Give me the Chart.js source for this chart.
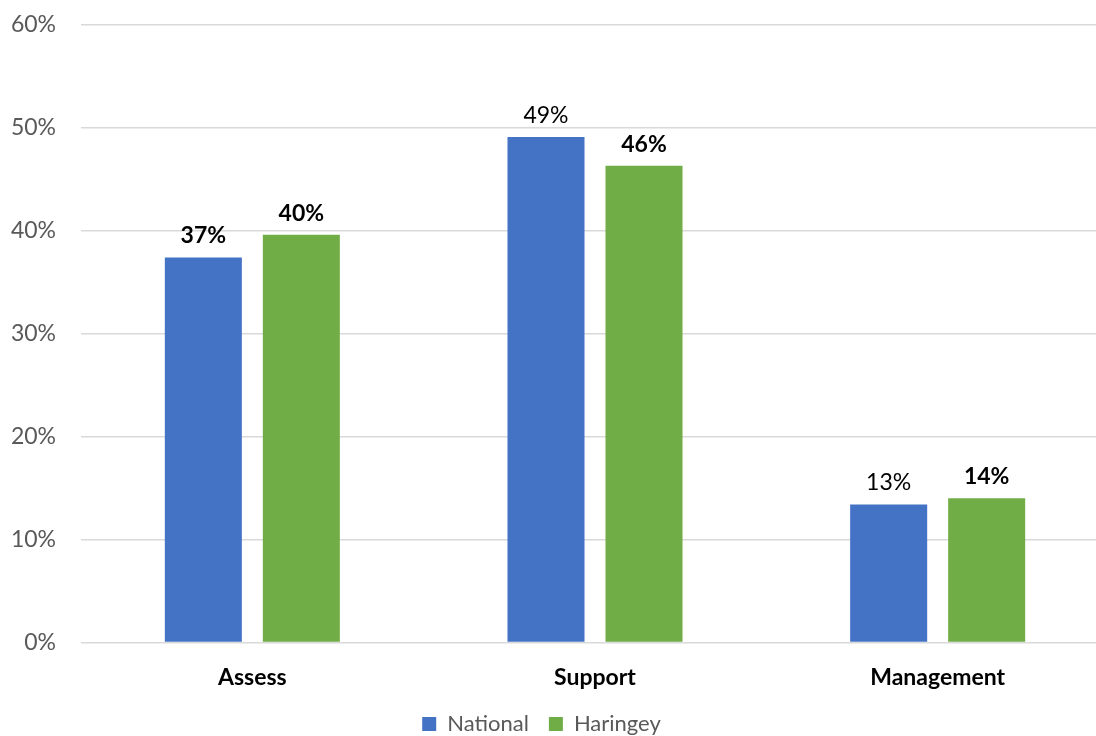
<!DOCTYPE html>
<html>
<head>
<meta charset="utf-8">
<script src="https://cdn.jsdelivr.net/npm/chart.js@4/dist/chart.umd.min.js"></script>
<style>
  html, body { margin: 0; padding: 0; background: #fff; overflow: hidden; width: 1096px; height: 736px; position: relative; }
  #wrap { position: absolute; left: -26px; top: -14px; width: 1136px; height: 755px; }
</style>
</head>
<body>
<div id="wrap"><canvas id="chart" width="1136" height="755"></canvas></div>
<script>
// Share of responses per category (%)
const categories = ['Assess', 'Support', 'Management'];
const nationalValues = [37.4, 49.1, 13.4];
const haringeyValues = [39.6, 46.3, 14.0];
// Which value labels are set in bold
const nationalBold = [true, false, false];
const haringeyBold = [true, true, true];
const yTicks = [0, 10, 20, 30, 40, 50, 60];

const FONT = 'Lato, "Open Sans", sans-serif';

// Draws the percentage above each bar
const valueLabels = {
  id: 'valueLabels',
  afterDatasetsDraw(chart) {
    const ctx = chart.ctx;
    const boldSets = [nationalBold, haringeyBold];
    chart.data.datasets.forEach((ds, i) => {
      const meta = chart.getDatasetMeta(i);
      meta.data.forEach((bar, j) => {
        ctx.save();
        ctx.font = (boldSets[i][j] ? 'bold ' : '') + '23px ' + FONT;
        ctx.fillStyle = '#000000';
        ctx.textAlign = 'center';
        ctx.textBaseline = 'alphabetic';
        ctx.fillText(Math.round(ds.data[j]) + '%', bar.x, bar.y - 14);
        ctx.restore();
      });
    });
  }
};

new Chart(document.getElementById('chart'), {
  type: 'bar',
  data: {
    labels: categories,
    datasets: [
      { label: 'National', data: nationalValues, backgroundColor: '#4472C4',
        categoryPercentage: 0.572, barPercentage: 0.786 },
      { label: 'Haringey', data: haringeyValues, backgroundColor: '#70AD47',
        categoryPercentage: 0.572, barPercentage: 0.786 }
    ]
  },
  options: {
    responsive: false,
    animation: false,
    devicePixelRatio: 1,
    layout: { padding: { top: 0, right: 1, bottom: -4, left: 0 } },
    scales: {
      x: {
        afterFit(scale) { scale.height -= 11; },
        grid: { display: false },
        border: { display: false },
        ticks: { color: '#000000', font: { family: FONT, size: 23, weight: 'bold' }, padding: 13 }
      },
      y: {
        min: 0,
        max: 60,
        afterFit(scale) { scale.width = 107; },
        afterBuildTicks(scale) { scale.ticks = yTicks.map(v => ({ value: v })); },
        grid: { color: '#D9D9D9', lineWidth: 1.5, drawTicks: false },
        border: { display: false },
        ticks: {
          color: '#595959',
          font: { family: FONT, size: 23 },
          padding: 25,
          callback: v => v + '%'
        }
      }
    },
    plugins: {
      legend: {
        position: 'bottom',
        labels: {
          color: '#595959',
          font: { family: FONT, size: 22 },
          boxWidth: 14,
          boxHeight: 14,
          padding: 20
        }
      },
      tooltip: { enabled: false }
    }
  },
  plugins: [valueLabels]
});
</script>
</body>
</html>
